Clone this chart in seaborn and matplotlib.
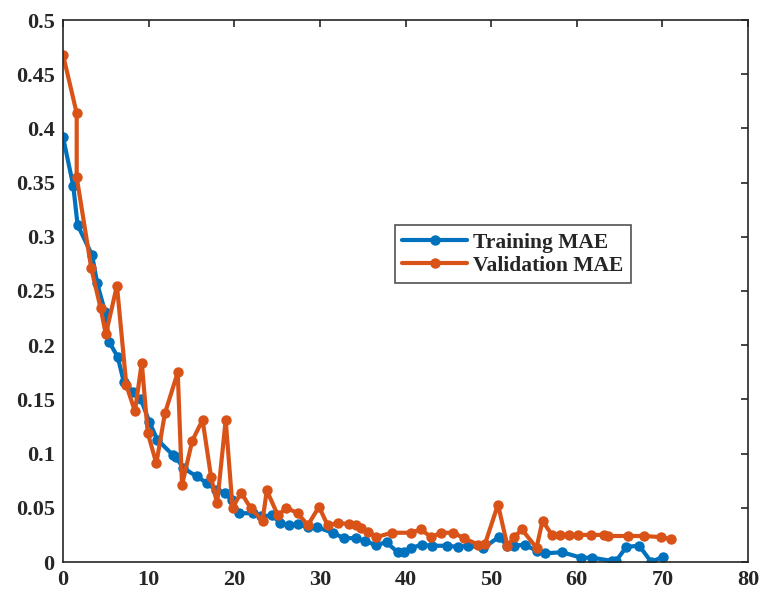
import matplotlib
matplotlib.use("Agg")
import matplotlib.pyplot as plt
import seaborn as sns
import pandas as pd

train_x = [0, 1.2, 1.7, 3.4, 4.0, 4.9, 5.4, 6.4, 7.1, 8.2, 9.1, 10.1, 11.0, 12.8, 13.2,
           14.0, 15.6, 16.8, 17.9, 18.9, 19.7, 20.6, 22.2, 23.1, 24.4, 25.4, 26.4, 27.4,
           28.6, 29.7, 31.5, 32.8, 34.2, 35.3, 36.5, 37.8, 39.1, 39.8, 40.7, 41.9, 43.1,
           44.8, 46.1, 47.3, 49.1, 50.9, 51.9, 52.7, 53.9, 55.4, 56.3, 58.3, 60.5, 61.8,
           64.1, 64.6, 65.8, 67.3, 68.7, 70.1]
train_y = [0.392, 0.347, 0.311, 0.283, 0.257, 0.231, 0.203, 0.189, 0.166, 0.157, 0.150,
           0.129, 0.113, 0.099, 0.097, 0.087, 0.079, 0.073, 0.066, 0.064, 0.057, 0.045,
           0.045, 0.042, 0.043, 0.036, 0.034, 0.035, 0.032, 0.032, 0.027, 0.022, 0.022,
           0.019, 0.016, 0.018, 0.009, 0.009, 0.013, 0.016, 0.015, 0.015, 0.014, 0.015,
           0.013, 0.023, 0.015, 0.015, 0.016, 0.010, 0.008, 0.009, 0.004, 0.004, 0.001,
           0.001, 0.014, 0.015, 0.000, 0.005]

val_x = [0, 1.6, 1.6, 3.3, 4.4, 5.0, 6.3, 7.4, 8.4, 9.2, 9.9, 10.9, 11.9, 13.4, 13.9,
         15.1, 16.3, 17.3, 18.0, 19.0, 19.8, 20.8, 21.9, 23.3, 23.8, 25.1, 26.1, 27.4,
         28.6, 29.9, 30.9, 32.1, 33.4, 34.2, 34.8, 35.6, 36.6, 38.4, 40.6, 41.8, 43.0,
         44.2, 45.6, 46.8, 48.5, 49.3, 50.8, 51.9, 52.7, 53.6, 55.3, 56.0, 57.1, 58.1,
         59.1, 60.2, 61.7, 63.2, 63.6, 66.0, 67.8, 69.8, 71.0]
val_y = [0.468, 0.414, 0.355, 0.271, 0.234, 0.210, 0.255, 0.163, 0.139, 0.184, 0.119,
         0.091, 0.137, 0.175, 0.071, 0.112, 0.131, 0.078, 0.054, 0.131, 0.050, 0.064,
         0.050, 0.038, 0.066, 0.043, 0.050, 0.045, 0.034, 0.051, 0.034, 0.036, 0.035,
         0.034, 0.031, 0.028, 0.023, 0.027, 0.027, 0.030, 0.023, 0.027, 0.027, 0.022,
         0.016, 0.017, 0.053, 0.015, 0.023, 0.030, 0.013, 0.038, 0.025, 0.025, 0.025,
         0.025, 0.025, 0.025, 0.024, 0.024, 0.024, 0.023, 0.021]

series_names = ["Training MAE", "Validation MAE"]
colors = ["#0072BD", "#D95319"]

df = pd.concat([
    pd.DataFrame({"epoch": train_x, "mae": train_y, "series": series_names[0]}),
    pd.DataFrame({"epoch": val_x, "mae": val_y, "series": series_names[1]}),
], ignore_index=True)

sns.set_style("white")
plt.rcParams["font.family"] = ["Liberation Serif", "DejaVu Serif"]
plt.rcParams["font.weight"] = "bold"

fig = plt.figure(figsize=(7.65, 6.03), dpi=100)
ax = fig.add_axes([63 / 765, 41 / 603, 685 / 765, 542 / 603])

sns.lineplot(data=df, x="epoch", y="mae", hue="series", palette=colors,
             estimator=None, sort=False, marker="o", markersize=7.5,
             markeredgewidth=0, linewidth=3.0, ax=ax)

ax.set_xlim(0, 80)
ax.set_ylim(0, 0.5)
ax.set_xticks(range(0, 81, 10))
ax.set_yticks([0, 0.05, 0.1, 0.15, 0.2, 0.25, 0.3, 0.35, 0.4, 0.45, 0.5])
ax.set_yticklabels(["0", "0.05", "0.1", "0.15", "0.2", "0.25", "0.3", "0.35", "0.4", "0.45", "0.5"])
ax.set_xlabel("")
ax.set_ylabel("")
ax.tick_params(axis="both", which="both", direction="in", length=5, width=1.2,
               top=True, right=True, labelsize=16, pad=6, colors="#262626")
for lab in ax.get_xticklabels() + ax.get_yticklabels():
    lab.set_fontweight("bold")
for sp in ax.spines.values():
    sp.set_visible(True)
    sp.set_color("#262626")
    sp.set_linewidth(1.2)

leg = ax.legend(loc="center", bbox_to_anchor=(0.657, 0.568), frameon=True,
                fancybox=False, edgecolor="#262626", handlelength=3.0,
                borderpad=0.35, labelspacing=0.15, handletextpad=0.3,
                prop={"family": "Liberation Serif", "weight": "bold", "size": 15.5})
leg.get_frame().set_linewidth(1.2)

fig.savefig("out.png", dpi=100)
